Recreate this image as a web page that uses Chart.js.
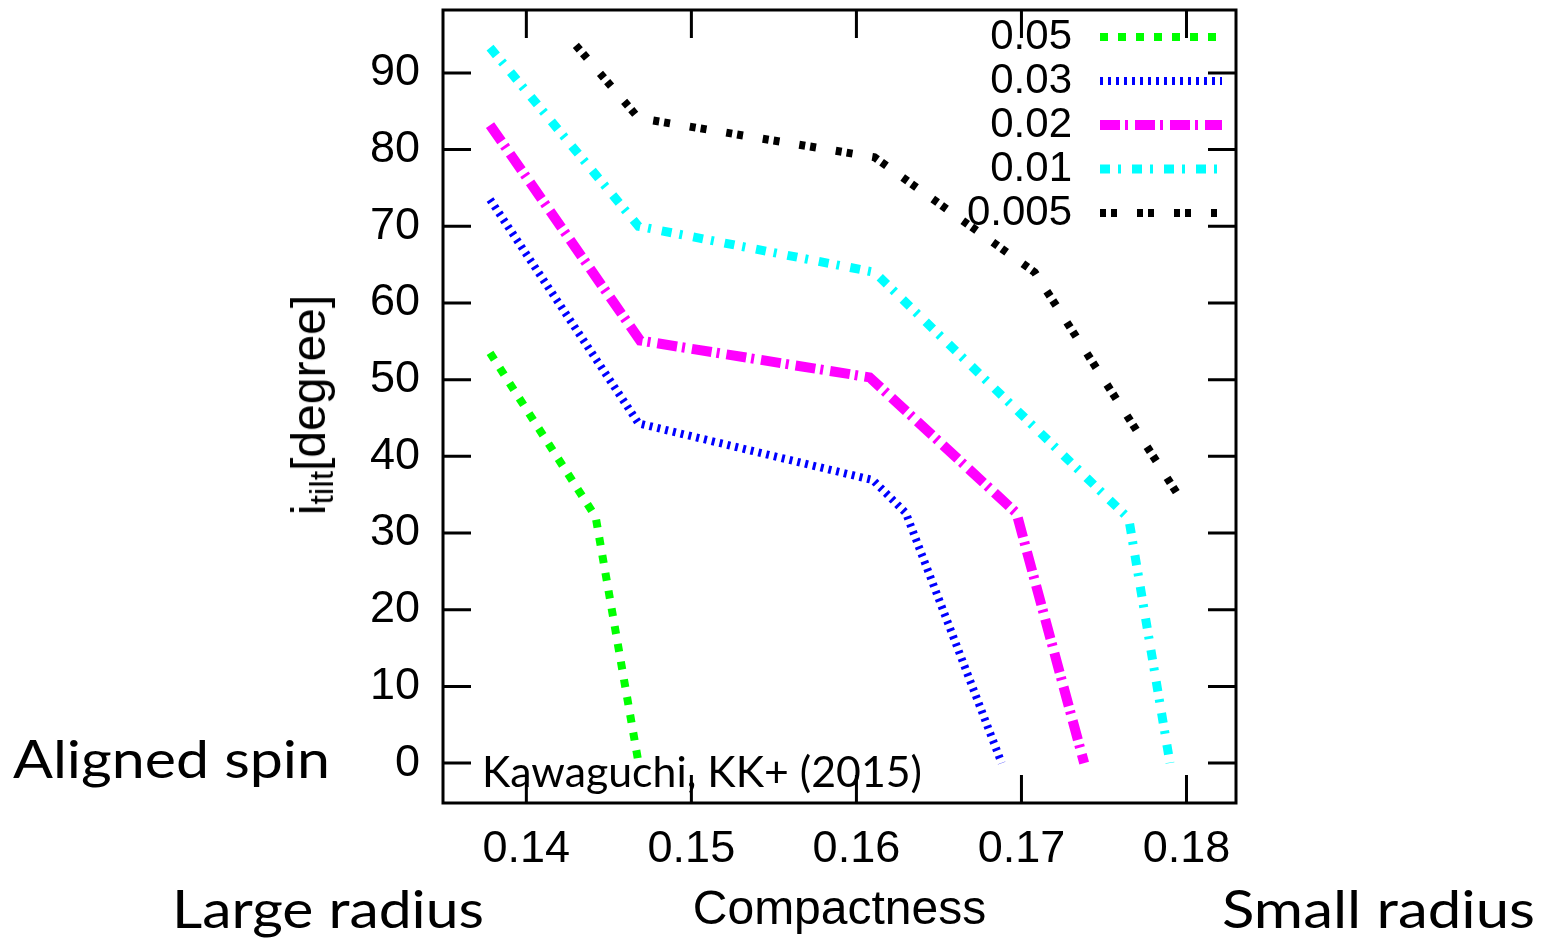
<!DOCTYPE html>
<html>
<head>
<meta charset="utf-8">
<script src="https://cdn.jsdelivr.net/npm/chart.js@4.4.0/dist/chart.umd.min.js"></script>
<style>
  html, body { margin: 0; padding: 0; background: #fff; }
  #wrap { position: relative; width: 1545px; height: 940px; overflow: hidden; }
  #mychart { position: absolute; left: 0; top: 0; }
  .note { position: absolute; font-family: Lato, "Open Sans", sans-serif; color: #000;
          white-space: nowrap; line-height: 1; transform-origin: 0 0; }
  #ytitle { position: absolute; left: 312px; top: 405px; font-family: "Liberation Sans", Arial, sans-serif;
            font-size: 48px; line-height: 1; white-space: nowrap; color: #000;
            transform: translate(-50%, -50%) rotate(-90deg); }
  #ytitle sub { font-size: 0.7em; vertical-align: -0.25em; }
</style>
</head>
<body>
<div id="wrap">
  <canvas id="mychart" width="1545" height="940"></canvas>
  <div id="ytitle">i<sub>tilt</sub>[degree]</div>
  <div class="note" style="left:13px; top:731px; font-size:53px" data-w="317">Aligned spin</div>
  <div class="note" style="left:172px; top:881px; font-size:53px" data-w="312">Large radius</div>
  <div class="note" style="left:1222px; top:881px; font-size:53px" data-w="313">Small radius</div>
  <div class="note" style="left:482px; top:749px; font-size:43px" data-w="440">Kawaguchi, KK+ (2015)</div>
</div>
<script>
// tick values
const xTicks = [0.14, 0.15, 0.16, 0.17, 0.18];
const yTicks = [0, 10, 20, 30, 40, 50, 60, 70, 80, 90];

// series (legend label -> compactness / tilt angle)
const seriesLabels = ['0.05', '0.03', '0.02', '0.01', '0.005'];

const comp_005a = [0.1378, 0.1442, 0.1468];
const tilt_005a = [53.5, 32.1, 0];

const comp_003 = [0.1378, 0.1468, 0.1610, 0.1630, 0.1688];
const tilt_003 = [73.5, 44.3, 36.9, 32.6, 0];

const comp_002 = [0.1378, 0.1469, 0.1608, 0.1697, 0.1738];
const tilt_002 = [83.2, 55.1, 50.3, 32.6, 0];

const comp_001 = [0.1378, 0.1468, 0.1611, 0.1765, 0.1790];
const tilt_001 = [93.3, 70.0, 64.0, 31.9, 0];

const comp_0005 = [0.1430, 0.1468, 0.1611, 0.1708, 0.1799];
const tilt_0005 = [93.6, 84.1, 79.0, 64.0, 33.6];

const compList = [comp_005a, comp_003, comp_002, comp_001, comp_0005];
const tiltList = [tilt_005a, tilt_003, tilt_002, tilt_001, tilt_0005];

const colors = ['#00ff00', '#0000ff', '#ff00ff', '#00ffff', '#000000'];
const widths = [8, 8, 10, 9, 8];
const dashes = [[8, 10], [3, 5], [20, 5, 3, 7], [10, 8, 3, 11], [6, 5, 6, 20]];

const FONT = '"Liberation Sans", Arial, Helvetica, sans-serif';

const datasets = seriesLabels.map((lab, i) => ({
    label: lab,
    data: compList[i].map((c, k) => ({ x: c, y: tiltList[i][k] })),
    borderColor: colors[i],
    backgroundColor: colors[i],
    borderWidth: widths[i],
    borderDash: dashes[i],
    borderCapStyle: 'butt',
    borderJoinStyle: 'miter',
    showLine: true,
    fill: false,
    tension: 0,
    pointRadius: 0,
    pointHoverRadius: 0,
}));

// legend drawn inside the box, text right aligned before the sample line
const sideLegend = {
    id: 'sideLegend',
    afterDatasetsDraw(chart) {
        const ctx = chart.ctx;
        const a = chart.chartArea;
        ctx.save();
        ctx.font = '42px ' + FONT;
        ctx.textAlign = 'right';
        ctx.textBaseline = 'middle';
        chart.data.datasets.forEach((ds, i) => {
            const y = a.top + 27 + i * 44;
            ctx.fillStyle = '#000';
            ctx.fillText(ds.label, a.right - 164, y);
            ctx.strokeStyle = ds.borderColor;
            ctx.lineWidth = ds.borderWidth;
            ctx.lineCap = 'butt';
            ctx.setLineDash(ds.borderDash);
            ctx.beginPath();
            ctx.moveTo(a.right - 136, y);
            ctx.lineTo(a.right - 14, y);
            ctx.stroke();
        });
        ctx.restore();
    }
};

// gnuplot style box with inward ticks on all four sides
const boxFrame = {
    id: 'boxFrame',
    afterDraw(chart) {
        const { ctx, chartArea: a, scales } = chart;
        const tl = 28;
        ctx.save();
        ctx.strokeStyle = '#000';
        ctx.lineWidth = 3;
        ctx.setLineDash([]);
        ctx.beginPath();
        scales.x.ticks.forEach(t => {
            const px = scales.x.getPixelForValue(t.value);
            ctx.moveTo(px, a.bottom); ctx.lineTo(px, a.bottom - tl);
            ctx.moveTo(px, a.top); ctx.lineTo(px, a.top + tl);
        });
        scales.y.ticks.forEach(t => {
            const py = scales.y.getPixelForValue(t.value);
            ctx.moveTo(a.left, py); ctx.lineTo(a.left + tl, py);
            ctx.moveTo(a.right, py); ctx.lineTo(a.right - tl, py);
        });
        ctx.stroke();
        ctx.strokeRect(a.left, a.top, a.right - a.left, a.bottom - a.top);
        ctx.restore();
    }
};

const config = {
    type: 'scatter',
    data: { datasets: datasets },
    options: {
        responsive: false,
        animation: false,
        devicePixelRatio: 1,
        layout: { padding: { left: 0, top: 10, right: 309, bottom: 0 } },
        plugins: {
            legend: { display: false },
            tooltip: { enabled: false },
        },
        scales: {
            x: {
                type: 'linear',
                min: 0.13495,
                max: 0.1830,
                afterBuildTicks: s => { s.ticks = xTicks.map(v => ({ value: v })); },
                afterFit: s => { s.height = 137; s.paddingLeft = 0; s.paddingRight = 0; },
                grid: { display: false, drawTicks: false },
                border: { display: false },
                ticks: {
                    color: '#000',
                    font: { family: FONT, size: 45 },
                    padding: 20,
                    maxRotation: 0,
                    autoSkip: false,
                    callback: v => v.toFixed(2),
                },
                title: {
                    display: true,
                    text: 'Compactness',
                    color: '#000',
                    font: { family: FONT, size: 48, lineHeight: 1.2 },
                    padding: { top: 0, bottom: 0 },
                },
            },
            y: {
                type: 'linear',
                min: -5.2,
                max: 98.2,
                afterBuildTicks: s => { s.ticks = yTicks.map(v => ({ value: v })); },
                afterFit: s => { s.width = 443; s.paddingTop = 0; s.paddingBottom = 0; },
                grid: { display: false, drawTicks: false },
                border: { display: false },
                ticks: {
                    color: '#000',
                    font: { family: FONT, size: 45 },
                    padding: 23,
                    autoSkip: false,
                    callback: v => String(v),
                },
            },
        },
    },
    plugins: [sideLegend, boxFrame],
};

const ctx = document.getElementById('mychart').getContext('2d');
new Chart(ctx, config);

// stretch the annotation texts to the widths seen in the picture
document.querySelectorAll('.note').forEach(el => {
    const w = parseFloat(el.dataset.w);
    const k = w / el.getBoundingClientRect().width;
    el.style.transform = 'scaleX(' + k + ')';
});
</script>
</body>
</html>
